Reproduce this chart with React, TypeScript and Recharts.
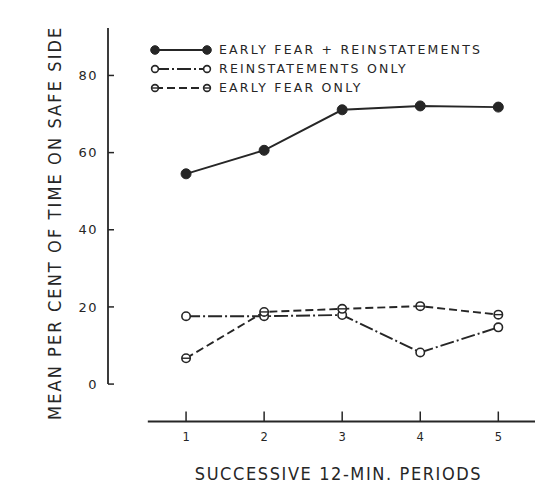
import { Legend, Line, LineChart, ReferenceLine, XAxis, YAxis } from "recharts";

// values
const PERIODS = [1, 2, 3, 4, 5];
const FEAR_AND_REINSTATEMENTS = [54.5, 60.6, 71.1, 72.1, 71.8];
const REINSTATEMENTS_ONLY = [17.6, 17.6, 17.9, 8.2, 14.7];
const EARLY_FEAR_ONLY = [6.7, 18.7, 19.5, 20.2, 18.0];
const Y_TICKS = [0, 20, 40, 60, 80];
const SERIES_NAMES = ["EARLY FEAR + REINSTATEMENTS", "REINSTATEMENTS ONLY", "EARLY FEAR ONLY"];

const INK = "#262626";
const FONT = "'DejaVu Sans', sans-serif";
const TITLE_FONT = "'DejaVu Sans Condensed', 'DejaVu Sans', sans-serif";
const Y_MIN = -9.7;
const Y_MAX = 92.3;

const data = PERIODS.map((period, i) => ({
  period,
  both: FEAR_AND_REINSTATEMENTS[i],
  reinst: REINSTATEMENTS_ONLY[i],
  fear: EARLY_FEAR_ONLY[i],
}));

type DotProps = { cx?: number; cy?: number; index?: number };

// dot renderers take their own size; recharts' default r is ignored
const filledDot = (size: number) => ({ cx, cy, index }: DotProps) => (
  <circle key={index} cx={cx} cy={cy} r={size} fill={INK} stroke={INK} />
);

const openDot = (size: number) => ({ cx, cy, index }: DotProps) => (
  <circle key={index} cx={cx} cy={cy} r={size} fill="#fff" stroke={INK} strokeWidth={1.6} />
);

const barredDot = (size: number) => ({ cx = 0, cy = 0, index }: DotProps) => (
  <g key={index}>
    <circle cx={cx} cy={cy} r={size} fill="#fff" stroke={INK} strokeWidth={1.6} />
    <line x1={cx - size} x2={cx + size} y1={cy} y2={cy} stroke={INK} strokeWidth={1.4} />
  </g>
);

const SERIES = [
  { key: "both", name: SERIES_NAMES[0], dash: undefined, dot: filledDot(5), mark: filledDot(4.3) },
  { key: "reinst", name: SERIES_NAMES[1], dash: "14 3 2 3", dot: openDot(4.2), mark: openDot(3.4) },
  { key: "fear", name: SERIES_NAMES[2], dash: "8 4", dot: barredDot(4.2), mark: barredDot(3.4) },
];

function LegendRows() {
  return (
    <div style={{ fontFamily: FONT, fontSize: 12.5, letterSpacing: 2.2, color: INK }}>
      {SERIES.map((s) => (
        <div key={s.key} style={{ display: "flex", alignItems: "center", height: 19 }}>
          <svg width={66} height={12}>
            <line x1={5} x2={57} y1={6} y2={6} stroke={INK} strokeWidth={1.8} strokeDasharray={s.dash} />
            {s.mark({ cx: 5, cy: 6, index: 0 })}
            {s.mark({ cx: 57, cy: 6, index: 1 })}
          </svg>
          <span style={{ marginLeft: 3, whiteSpace: "nowrap" }}>{s.name}</span>
        </div>
      ))}
    </div>
  );
}

export default function App() {
  return (
    <div style={{ position: "absolute", left: 0, top: 0, background: "#fff" }}>
      <LineChart width={535} height={484} data={data} margin={{ top: 28, right: 0, bottom: 0, left: 0 }}>
        <XAxis
          dataKey="period"
          type="number"
          domain={[0, 5.47]}
          ticks={PERIODS}
          axisLine={false}
          tickLine={{ stroke: INK, strokeWidth: 1.5 }}
          tickSize={-10}
          tickMargin={21}
          height={62.5}
          tick={{ fill: INK, fontSize: 11.5, fontFamily: FONT }}
          label={{
            value: "SUCCESSIVE 12-MIN. PERIODS",
            position: "center",
            dx: 17,
            dy: 20.5,
            fill: INK,
            fontSize: 18,
            fontFamily: TITLE_FONT,
            letterSpacing: 1.6,
          }}
        />
        <YAxis
          type="number"
          domain={[Y_MIN, Y_MAX]}
          ticks={Y_TICKS}
          width={108}
          axisLine={false}
          tickLine={{ stroke: INK, strokeWidth: 1.5 }}
          tickSize={-6}
          tickMargin={16}
          tick={{ fill: INK, fontSize: 13, fontFamily: FONT, letterSpacing: 1.5 }}
          label={{
            value: "MEAN PER CENT OF TIME ON SAFE SIDE",
            position: "center",
            angle: -90,
            dx: 1,
            dy: -2,
            fill: INK,
            fontSize: 18,
            fontFamily: TITLE_FONT,
            letterSpacing: 2.1,
          }}
        />
        <ReferenceLine
          segment={[{ x: 0, y: 0 }, { x: 0, y: Y_MAX }]}
          stroke={INK}
          strokeWidth={1.8}
          ifOverflow="visible"
        />
        <ReferenceLine
          segment={[{ x: 0.51, y: Y_MIN }, { x: 5.47, y: Y_MIN }]}
          stroke={INK}
          strokeWidth={1.8}
          ifOverflow="visible"
        />
        {SERIES.map((s) => (
          <Line
            key={s.key}
            dataKey={s.key}
            name={s.name}
            stroke={INK}
            strokeWidth={1.9}
            strokeDasharray={s.dash}
            dot={s.dot}
            activeDot={false}
            isAnimationActive={false}
          />
        ))}
        <Legend
          layout="horizontal"
          verticalAlign="middle"
          align="center"
          wrapperStyle={{ top: 40, left: 150, width: "auto" }}
          content={() => <LegendRows />}
        />
      </LineChart>
    </div>
  );
}
